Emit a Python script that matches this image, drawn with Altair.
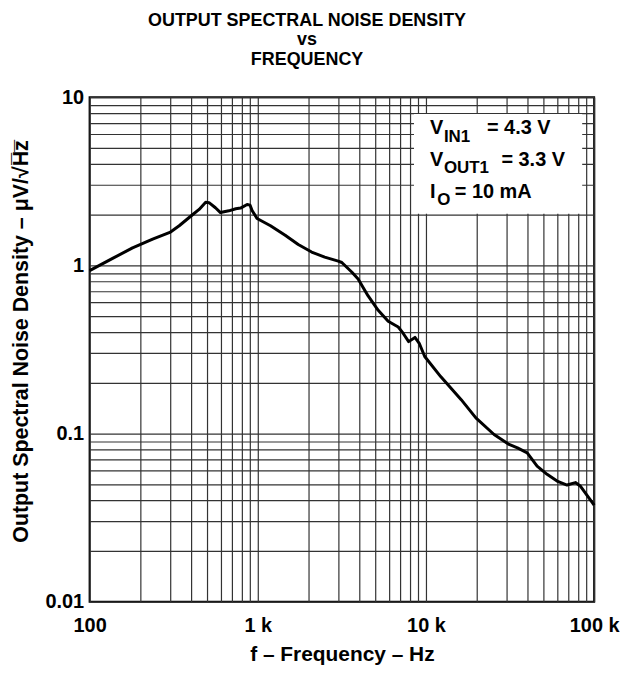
import altair as alt
import pandas as pd

# Curve data (Hz, µV/√Hz)
freq = [100, 137, 180, 237, 300, 341, 409, 448, 490, 513, 560, 600, 673, 740, 790,
        864, 900, 925, 990, 1190, 1455, 1740, 2090, 2500, 3010, 3160, 3630, 3950,
        4520, 5200, 5960, 6840, 7310, 7890, 8600, 9120, 9830, 12230, 16200, 19800,
        25400, 31200, 35000, 40000, 45800, 52500, 60200, 69000, 77400, 82600, 100000]
noise = [0.93, 1.10, 1.27, 1.43, 1.57, 1.72, 2.00, 2.15, 2.37, 2.36, 2.20, 2.06, 2.11,
         2.17, 2.19, 2.30, 2.28, 2.12, 1.90, 1.72, 1.51, 1.33, 1.20, 1.12, 1.06, 1.04,
         0.91, 0.83, 0.66, 0.54, 0.465, 0.43, 0.395, 0.352, 0.373, 0.344, 0.287, 0.218,
         0.159, 0.124, 0.0987, 0.0861, 0.0822, 0.0768, 0.064, 0.0572, 0.0522, 0.0494,
         0.0511, 0.0488, 0.0375]

x_decades = [100, 1000, 10000]
y_decades = [0.01, 0.1, 1]
x_grid = [d * k for d in x_decades for k in range(1, 10)] + [100000]
y_grid = [round(d * k, 6) for d in y_decades for k in range(1, 10)] + [10]

# Annotation (conditions box), positions in data units
box_x = [8490]
box_x2 = [84900]
box_y = [2.03]
box_y2 = [7.93]
main_txt = ["V", "= 4.3 V", "V", "= 3.3 V", "I", "= 10 mA"]
main_x = [10560, 23050, 10560, 28090, 10560, 14840]
main_y = [6.04, 6.04, 3.91, 3.91, 2.53, 2.53]
sub_txt = ["IN1", "OUT1", "O"]
sub_x = [12780, 12780, 11660]
sub_y = [5.45, 3.52, 2.28]

FONT = "Liberation Sans"

df = pd.DataFrame({"f": freq, "v": noise})
xs = alt.Scale(type="log", domain=[100, 100000])
ys = alt.Scale(type="log", domain=[0.01, 10])

x_label = ("datum.value == 100 ? '100' : datum.value == 1000 ? '1 k' : "
           "datum.value == 10000 ? '10 k' : datum.value == 100000 ? '100 k' : ''")
y_label = ("datum.value == 10 ? '10' : datum.value == 1 ? '1' : "
           "datum.value == 0.1 ? '0.1' : datum.value == 0.01 ? '0.01' : ''")

line = alt.Chart(df).mark_line(color="black", strokeWidth=3, strokeJoin="round").encode(
    x=alt.X("f:Q", scale=xs, axis=alt.Axis(
        values=x_grid, labelExpr=x_label, ticks=False, domain=False, grid=True,
        labelOverlap=False, labelFlush=False, labelPadding=14,
        title="f \u2013 Frequency \u2013 Hz", titlePadding=8)),
    y=alt.Y("v:Q", scale=ys, axis=alt.Axis(
        values=y_grid, labelExpr=y_label, ticks=False, domain=False, grid=True,
        labelOverlap=False, labelFlush=False, labelPadding=6,
        title="Output Spectral Noise Density  \u2013  \u03bcV/\u221aH\u0305z\u0305",
        titlePadding=12, titleFontSize=21.5, titleY=245)),
)

box = alt.Chart(pd.DataFrame({"x": box_x, "x2": box_x2, "y": box_y, "y2": box_y2})).mark_rect(
    fill="white").encode(
    x=alt.X("x:Q", scale=xs), x2="x2:Q", y=alt.Y("y:Q", scale=ys), y2="y2:Q")

main = alt.Chart(pd.DataFrame({"t": main_txt, "x": main_x, "y": main_y})).mark_text(
    align="left", baseline="alphabetic", font=FONT, fontWeight="bold", fontSize=20,
    color="black").encode(x=alt.X("x:Q", scale=xs), y=alt.Y("y:Q", scale=ys), text="t:N")

sub = alt.Chart(pd.DataFrame({"t": sub_txt, "x": sub_x, "y": sub_y})).mark_text(
    align="left", baseline="alphabetic", font=FONT, fontWeight="bold", fontSize=17,
    color="black").encode(x=alt.X("x:Q", scale=xs), y=alt.Y("y:Q", scale=ys), text="t:N")

chart = alt.layer(line, box, main, sub).properties(
    width=507, height=507,
    autosize=alt.AutoSizeParams(type="none"),
    padding={"left": 82, "top": 88, "right": 30, "bottom": 66},
    title=alt.TitleParams(
        text=["OUTPUT SPECTRAL NOISE DENSITY", "vs", "FREQUENCY"],
        font=FONT, fontSize=18, fontWeight="bold", lineHeight=20,
        anchor="middle", dx=-35, offset=18, color="black"),
).configure_view(stroke="black", strokeWidth=2).configure_axis(
    labelFont=FONT, labelFontSize=20, labelFontWeight="bold", labelColor="black",
    titleFont=FONT, titleFontSize=21, titleFontWeight="bold", titleColor="black",
    gridColor="#333333", gridWidth=1.2, gridOpacity=1,
)

chart.save("out.html", embed_options={"renderer": "svg", "actions": False})
